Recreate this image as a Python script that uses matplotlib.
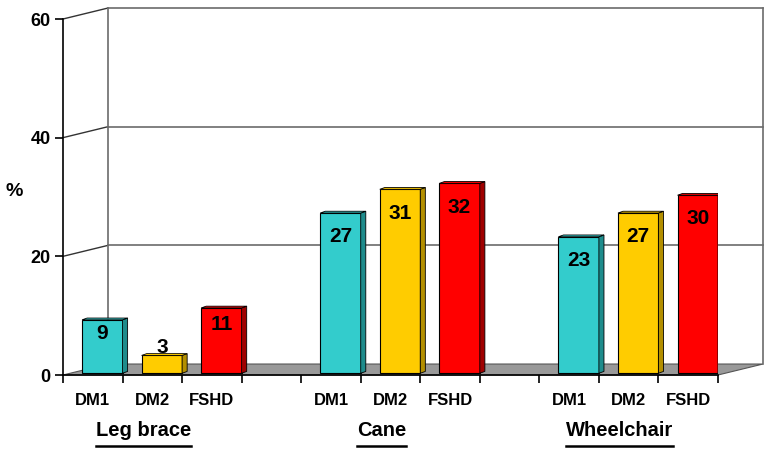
import matplotlib.pyplot as plt
from matplotlib.patches import Polygon

plt.rcParams['font.family'] = ['Liberation Sans', 'DejaVu Sans']
plt.rcParams['font.weight'] = 'bold'

# data
groups = ['Leg brace', 'Cane', 'Wheelchair']
diseases = ['DM1', 'DM2', 'FSHD']
legbrace = [9, 3, 11]
cane = [27, 31, 32]
wheelchair = [23, 27, 30]
colors = ['#33CCCC', '#FFCC00', '#FF0000']
side_colors = ['#1E8C8C', '#B38F00', '#A00000']

DX, DY = 0.756, 1.85      # depth of the 3d box (data units)
bdx, bdy = 0.085, 0.3     # depth of each bar
bw = 0.68
base = 0.3

fig = plt.figure(figsize=(7.71, 4.51), dpi=100)
ax = fig.add_axes([63/771, 1 - 375/451, 655/771, 356/451])
ax.set_xlim(0, 11)
ax.set_ylim(0, 60)

grid_c = '#6b6b6b'
# floor
floor = Polygon([(0, 0), (11, 0), (11 + DX, DY), (DX, DY)], closed=True,
                facecolor='#999999', edgecolor='#555555', lw=0.8,
                clip_on=False, zorder=1)
ax.add_patch(floor)
# back wall lines
for g in [20, 40, 60]:
    ax.plot([0, DX], [g, g + DY], color='#333333', lw=1, clip_on=False, zorder=1)
    ax.plot([DX, 11 + DX], [g + DY, g + DY], color=grid_c, lw=1.2, clip_on=False, zorder=1)
ax.plot([DX, DX], [DY, 60 + DY], color=grid_c, lw=1.2, clip_on=False, zorder=1)
ax.plot([11 + DX, 11 + DX], [DY, 60 + DY], color=grid_c, lw=1.2, clip_on=False, zorder=1)

# bars
all_vals = [legbrace, cane, wheelchair]
for gi, vals in enumerate(all_vals):
    for j, v in enumerate(vals):
        slot = gi * 4 + j
        x0 = slot + 0.32
        ax.bar(x0, v, width=bw, bottom=base, align='edge', color=colors[j],
               edgecolor='black', lw=0.8, zorder=3)
        top = base + v
        side = Polygon([(x0 + bw, base), (x0 + bw + bdx, base + bdy),
                        (x0 + bw + bdx, top + bdy), (x0 + bw, top)],
                       closed=True, facecolor=side_colors[j], edgecolor='black',
                       lw=0.6, zorder=3)
        ax.add_patch(side)
        cap = Polygon([(x0, top), (x0 + bdx, top + bdy), (x0 + bw + bdx, top + bdy),
                       (x0 + bw, top)], closed=True, facecolor=colors[j],
                      edgecolor='black', lw=0.6, zorder=3)
        ax.add_patch(cap)
        if v < 5:
            ty = top + 1.3
        else:
            ty = top - min(4.0, 0.25 * v)
        ax.text(x0 + bw / 2, ty, str(v), ha='center', va='center',
                fontsize=15, fontweight='bold', zorder=4)

# axes
for s in ['top', 'right']:
    ax.spines[s].set_visible(False)
ax.spines['left'].set_linewidth(1.2)
ax.spines['bottom'].set_linewidth(1.2)
ax.spines['left'].set_zorder(5)
ax.spines['bottom'].set_zorder(5)
ax.set_yticks([0, 20, 40, 60])
ax.tick_params(axis='y', labelsize=13, length=6, width=1.2, pad=3)
ax.set_xticks(range(12))
ax.set_xticklabels([''] * 12)
ax.tick_params(axis='x', which='major', length=6, width=1.2)
centers = [g * 4 + j + 0.5 for g in range(3) for j in range(3)]
ax.set_xticks(centers, minor=True)
ax.set_xticklabels(diseases * 3, minor=True)
ax.tick_params(axis='x', which='minor', length=0, labelsize=12, pad=13)
for lab in ax.get_yticklabels() + ax.get_xticklabels(minor=True):
    lab.set_fontweight('bold')

fig.text(14/771, 1 - 192/451, '%', fontsize=14, fontweight='bold',
         ha='center', va='center')

# group labels, underlined
fig.canvas.draw()
rend = fig.canvas.get_renderer()
for gi, name in enumerate(groups):
    t = ax.text(gi * 4 + 1.35, -9.3, name, ha='center', va='center',
                fontsize=14.5, fontweight='bold', clip_on=False)
    bb = t.get_window_extent(rend)
    inv = fig.transFigure.inverted()
    (fx0, fy0), (fx1, fy1) = inv.transform([(bb.x0, bb.y0), (bb.x1, bb.y1)])
    fig.add_artist(plt.Line2D([fx0, fx1], [fy0 - 0.014, fy0 - 0.014],
                              color='black', lw=1.8, transform=fig.transFigure))

fig.savefig('out.png', dpi=100)
